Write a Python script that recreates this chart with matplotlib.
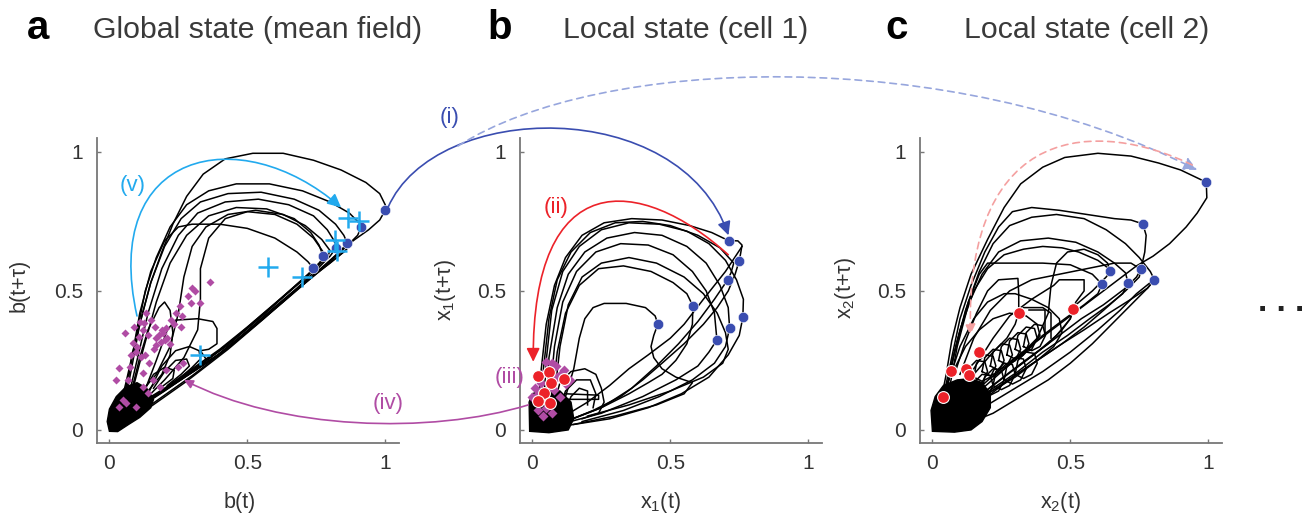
import matplotlib
matplotlib.use("Agg")
import matplotlib.pyplot as plt
from matplotlib.path import Path
from matplotlib.patches import FancyArrowPatch, Polygon

plt.rcParams['font.family'] = ['Liberation Sans', 'DejaVu Sans']
plt.rcParams['mathtext.fontset'] = 'custom'
plt.rcParams['mathtext.rm'] = 'Liberation Sans'
plt.rcParams['mathtext.it'] = 'Liberation Sans:italic'

W, H = 1311, 522

BLUE = '#3a4db0'
CYAN = '#22aaee'
MAGENTA = '#b04ca4'
RED = '#ec2229'
LIGHT_BLUE = '#97a6dd'
LIGHT_RED = '#f4a0a0'

# ---------------- panel a : mean field b(t) vs b(t+tau) ----------------
blue_a = [(1.0, 0.791), (0.913, 0.730), (0.862, 0.673), (0.822, 0.655), (0.775, 0.626), (0.738, 0.583)]
cross_a = [(0.865, 0.763), (0.905, 0.752), (0.818, 0.683), (0.825, 0.644), (0.575, 0.586), (0.698, 0.550), (0.327, 0.270)]
magenta_a = [(0.364, 0.533), (0.327, 0.458), (0.285, 0.48), (0.255, 0.444), (0.242, 0.42), (0.224, 0.396),
             (0.261, 0.372), (0.206, 0.366), (0.188, 0.318), (0.2, 0.324), (0.164, 0.372), (0.152, 0.396),
             (0.133, 0.42), (0.121, 0.36), (0.109, 0.336), (0.085, 0.312), (0.097, 0.282), (0.079, 0.27),
             (0.115, 0.264), (0.145, 0.24), (0.036, 0.222), (0.024, 0.18), (0.067, 0.18), (0.121, 0.156),
             (0.139, 0.132), (0.048, 0.108), (0.061, 0.096), (0.097, 0.084), (0.036, 0.084), (0.248, 0.228),
             (0.267, 0.24), (0.055, 0.348), (0.17, 0.306), (0.182, 0.156), (0.158, 0.18), (0.073, 0.228),
             (0.121, 0.204), (0.206, 0.216), (0.18, 0.34), (0.195, 0.35), (0.17, 0.33), (0.19, 0.36),
             (0.14, 0.34), (0.16, 0.29), (0.10, 0.30), (0.13, 0.27), (0.31, 0.50), (0.295, 0.455),
             (0.265, 0.41), (0.235, 0.38), (0.21, 0.33), (0.22, 0.31), (0.125, 0.385), (0.11, 0.39),
             (0.09, 0.37), (0.30, 0.51)]
blob_a = [(0.0, -0.005), (-0.008, 0.03), (0.0, 0.075), (0.025, 0.12), (0.06, 0.155), (0.10, 0.17),
          (0.135, 0.15), (0.16, 0.11), (0.15, 0.08), (0.11, 0.045), (0.07, 0.02), (0.03, -0.006)]
loops_a = [
    [(0.03, 0.05), (0.06, 0.17), (0.09, 0.30), (0.12, 0.42), (0.15, 0.53), (0.19, 0.64), (0.23, 0.74),
     (0.28, 0.84), (0.34, 0.92), (0.42, 0.975), (0.52, 0.995), (0.63, 0.995), (0.74, 0.97), (0.84, 0.935),
     (0.93, 0.89), (0.98, 0.85), (1.0, 0.81), (1.0, 0.79), (0.98, 0.755), (0.94, 0.72), (0.89, 0.685),
     (0.85, 0.655), (0.80, 0.61), (0.72, 0.54), (0.62, 0.455), (0.50, 0.355), (0.40, 0.275), (0.30, 0.21),
     (0.20, 0.145), (0.12, 0.095), (0.05, 0.045), (0.01, 0.01)],
    [(0.04, 0.06), (0.07, 0.2), (0.10, 0.35), (0.13, 0.5), (0.17, 0.62), (0.22, 0.73), (0.28, 0.81),
     (0.36, 0.86), (0.46, 0.885), (0.58, 0.885), (0.70, 0.86), (0.80, 0.82), (0.87, 0.78), (0.905, 0.745),
     (0.913, 0.73), (0.90, 0.70), (0.87, 0.67), (0.81, 0.615), (0.73, 0.545), (0.63, 0.46), (0.51, 0.36),
     (0.41, 0.28), (0.31, 0.215), (0.21, 0.15), (0.13, 0.10), (0.06, 0.05), (0.02, 0.015)],
    [(0.05, 0.07), (0.08, 0.22), (0.11, 0.38), (0.15, 0.53), (0.20, 0.66), (0.26, 0.76), (0.33, 0.82),
     (0.43, 0.85), (0.55, 0.855), (0.67, 0.83), (0.76, 0.79), (0.82, 0.74), (0.85, 0.70), (0.862, 0.673),
     (0.84, 0.645), (0.79, 0.60), (0.71, 0.53), (0.61, 0.445), (0.49, 0.345), (0.39, 0.265), (0.29, 0.20),
     (0.19, 0.135), (0.11, 0.085), (0.04, 0.035)],
    [(0.06, 0.08), (0.10, 0.25), (0.14, 0.42), (0.19, 0.58), (0.25, 0.70), (0.32, 0.78), (0.42, 0.82),
     (0.54, 0.83), (0.65, 0.81), (0.74, 0.77), (0.79, 0.72), (0.815, 0.68), (0.822, 0.655), (0.80, 0.625),
     (0.75, 0.575), (0.68, 0.51), (0.59, 0.435), (0.48, 0.34), (0.38, 0.26), (0.28, 0.195), (0.18, 0.13),
     (0.10, 0.08), (0.03, 0.03)],
    [(0.07, 0.09), (0.12, 0.28), (0.17, 0.46), (0.22, 0.60), (0.28, 0.70), (0.36, 0.77), (0.46, 0.80),
     (0.57, 0.795), (0.67, 0.76), (0.73, 0.71), (0.76, 0.665), (0.775, 0.626), (0.76, 0.595), (0.70, 0.54),
     (0.60, 0.455), (0.50, 0.37), (0.40, 0.29), (0.30, 0.22), (0.20, 0.15), (0.11, 0.095), (0.04, 0.04)],
    [(0.05, 0.08), (0.08, 0.25), (0.11, 0.42), (0.15, 0.57), (0.20, 0.68), (0.25, 0.73), (0.30, 0.74),
     (0.40, 0.74), (0.50, 0.725), (0.60, 0.69), (0.68, 0.64), (0.72, 0.605), (0.738, 0.583), (0.72, 0.555),
     (0.65, 0.495), (0.56, 0.42), (0.46, 0.335), (0.36, 0.255), (0.26, 0.185), (0.17, 0.125), (0.09, 0.07),
     (0.03, 0.025)],
    [(0.12, 0.10), (0.20, 0.18), (0.27, 0.26), (0.32, 0.36), (0.33, 0.47), (0.33, 0.58), (0.36, 0.69),
     (0.42, 0.76), (0.50, 0.785), (0.60, 0.775), (0.68, 0.74), (0.74, 0.69), (0.775, 0.64), (0.77, 0.61),
     (0.72, 0.56), (0.63, 0.48), (0.53, 0.39), (0.43, 0.305), (0.33, 0.235), (0.23, 0.165), (0.14, 0.105),
     (0.06, 0.05)],
    [(0.10, 0.12), (0.17, 0.20), (0.22, 0.30), (0.25, 0.42), (0.27, 0.55), (0.30, 0.66), (0.35, 0.73),
     (0.43, 0.775), (0.53, 0.79), (0.63, 0.775), (0.71, 0.735), (0.77, 0.685), (0.80, 0.645), (0.79, 0.62),
     (0.74, 0.575), (0.66, 0.505), (0.56, 0.415), (0.45, 0.325), (0.35, 0.25), (0.25, 0.18), (0.15, 0.115),
     (0.07, 0.06)],
    [(0.12, 0.12), (0.17, 0.25), (0.21, 0.36), (0.24, 0.395), (0.32, 0.40), (0.375, 0.39), (0.39, 0.365),
     (0.39, 0.31), (0.36, 0.29), (0.33, 0.285), (0.35, 0.255), (0.34, 0.235), (0.28, 0.195), (0.2, 0.14),
     (0.1, 0.075)],
    [(0.14, 0.13), (0.19, 0.23), (0.24, 0.285), (0.29, 0.30), (0.325, 0.285), (0.33, 0.255), (0.30, 0.225),
     (0.26, 0.19), (0.19, 0.14)],
    [(0.16, 0.15), (0.2, 0.21), (0.24, 0.25), (0.28, 0.255), (0.29, 0.23), (0.26, 0.2), (0.21, 0.16)],
    [(0.13, 0.15), (0.16, 0.2), (0.2, 0.225), (0.235, 0.215), (0.23, 0.185), (0.19, 0.155)],
    [(0.08, 0.14), (0.11, 0.26), (0.14, 0.36), (0.18, 0.44), (0.2, 0.46), (0.22, 0.43), (0.23, 0.35),
     (0.22, 0.27), (0.19, 0.2), (0.14, 0.14)],
    [(0.15, 0.09), (0.30, 0.195), (0.45, 0.31), (0.58, 0.42), (0.70, 0.525), (0.80, 0.60), (0.86, 0.65)],
    [(0.13, 0.07), (0.28, 0.175), (0.43, 0.29), (0.56, 0.40), (0.68, 0.505), (0.78, 0.585), (0.85, 0.64)],
]

# ---------------- panel b : cell 1 ----------------
blue_b = [(0.711, 0.681), (0.75, 0.609), (0.708, 0.54), (0.582, 0.446), (0.763, 0.405),
          (0.455, 0.381), (0.715, 0.366), (0.669, 0.324)]
red_b = [(0.019, 0.194), (0.059, 0.21), (0.113, 0.182), (0.068, 0.168), (0.043, 0.132),
         (0.019, 0.105), (0.062, 0.098)]
magenta_b = [(0.01, 0.15), (0.02, 0.13), (0.03, 0.17), (0.05, 0.245), (0.07, 0.24), (0.085, 0.23),
             (0.04, 0.2), (0.09, 0.19), (0.105, 0.2), (0.12, 0.165), (0.03, 0.1), (0.05, 0.08),
             (0.02, 0.07), (0.07, 0.06), (0.1, 0.12), (0.08, 0.145), (0.0, 0.12), (0.04, 0.05),
             (0.115, 0.215), (0.06, 0.205), (0.015, 0.19), (0.135, 0.18)]
blob_b = [(-0.01, -0.005), (-0.012, 0.10), (0.0, 0.13), (0.05, 0.15), (0.10, 0.14), (0.14, 0.10),
          (0.15, 0.04), (0.13, 0.0), (0.06, -0.01)]
loops_b = [
    [(0.02, 0.05), (0.03, 0.2), (0.05, 0.38), (0.08, 0.52), (0.12, 0.62), (0.18, 0.70), (0.26, 0.745),
     (0.36, 0.76), (0.47, 0.755), (0.57, 0.735), (0.65, 0.71), (0.711, 0.681), (0.745, 0.68), (0.76, 0.665),
     (0.755, 0.635), (0.75, 0.609), (0.735, 0.56), (0.71, 0.50), (0.67, 0.44), (0.62, 0.38), (0.55, 0.31),
     (0.47, 0.24), (0.40, 0.18), (0.32, 0.12), (0.22, 0.07), (0.12, 0.03), (0.04, 0.01)],
    [(0.03, 0.06), (0.04, 0.22), (0.06, 0.40), (0.09, 0.54), (0.14, 0.64), (0.21, 0.71), (0.30, 0.745),
     (0.40, 0.75), (0.50, 0.735), (0.60, 0.70), (0.68, 0.655), (0.73, 0.60), (0.72, 0.565), (0.708, 0.54),
     (0.66, 0.47), (0.60, 0.39), (0.53, 0.31), (0.45, 0.23), (0.36, 0.15), (0.25, 0.08), (0.12, 0.03)],
    [(0.04, 0.07), (0.05, 0.25), (0.07, 0.43), (0.11, 0.57), (0.17, 0.66), (0.25, 0.72), (0.35, 0.745),
     (0.46, 0.74), (0.56, 0.715), (0.64, 0.67), (0.70, 0.61), (0.74, 0.54), (0.765, 0.47), (0.763, 0.405),
     (0.75, 0.34), (0.71, 0.27), (0.64, 0.19), (0.54, 0.13), (0.42, 0.08), (0.28, 0.04), (0.12, 0.015)],
    [(0.05, 0.08), (0.06, 0.26), (0.09, 0.44), (0.13, 0.56), (0.19, 0.64), (0.27, 0.69), (0.37, 0.71),
     (0.47, 0.70), (0.56, 0.66), (0.63, 0.60), (0.68, 0.52), (0.71, 0.44), (0.715, 0.366), (0.70, 0.30),
     (0.66, 0.24), (0.58, 0.18), (0.46, 0.12), (0.33, 0.07), (0.18, 0.03)],
    [(0.06, 0.09), (0.08, 0.30), (0.11, 0.46), (0.16, 0.57), (0.23, 0.64), (0.32, 0.67), (0.42, 0.665),
     (0.51, 0.63), (0.58, 0.57), (0.63, 0.50), (0.66, 0.42), (0.669, 0.324), (0.64, 0.28), (0.60, 0.23),
     (0.52, 0.18), (0.40, 0.12), (0.25, 0.06), (0.1, 0.02)],
    [(0.07, 0.10), (0.09, 0.28), (0.12, 0.42), (0.17, 0.52), (0.24, 0.58), (0.33, 0.59), (0.43, 0.57),
     (0.51, 0.53), (0.56, 0.49), (0.582, 0.446), (0.58, 0.38), (0.56, 0.31), (0.52, 0.25), (0.47, 0.20),
     (0.42, 0.17), (0.35, 0.13), (0.25, 0.08), (0.12, 0.03)],
    [(0.12, 0.12), (0.15, 0.22), (0.17, 0.33), (0.19, 0.40), (0.22, 0.44), (0.26, 0.455), (0.34, 0.455),
     (0.41, 0.44), (0.445, 0.41), (0.455, 0.381), (0.44, 0.34), (0.43, 0.30), (0.44, 0.26), (0.47, 0.22),
     (0.52, 0.19), (0.58, 0.17), (0.55, 0.13), (0.45, 0.09), (0.3, 0.05), (0.15, 0.02)],
    [(0.08, 0.12), (0.10, 0.3), (0.13, 0.45), (0.18, 0.55), (0.25, 0.60), (0.35, 0.62), (0.45, 0.60),
     (0.55, 0.55), (0.62, 0.49), (0.67, 0.42), (0.70, 0.35), (0.71, 0.29), (0.69, 0.24), (0.62, 0.19),
     (0.5, 0.14), (0.35, 0.09), (0.2, 0.05)],
    [(0.76, 0.66), (0.70, 0.57), (0.62, 0.47), (0.55, 0.38), (0.50, 0.33), (0.42, 0.27), (0.35, 0.22),
     (0.28, 0.16), (0.2, 0.1), (0.1, 0.04)],
    [(0.08, 0.10), (0.10, 0.17), (0.14, 0.21), (0.19, 0.22), (0.23, 0.20), (0.25, 0.15), (0.26, 0.10),
     (0.24, 0.06), (0.18, 0.04)],
    [(0.1, 0.08), (0.12, 0.14), (0.16, 0.18), (0.21, 0.18), (0.23, 0.13), (0.22, 0.08)],
    [(0.12, 0.07), (0.14, 0.12), (0.17, 0.15), (0.2, 0.14), (0.2, 0.09)],
    [(0.10, 0.11), (0.24, 0.11), (0.24, 0.125), (0.12, 0.13)],
]

# ---------------- panel c : cell 2 ----------------
blue_c = [(0.993, 0.891), (0.763, 0.741), (0.645, 0.57), (0.756, 0.578), (0.615, 0.524),
          (0.709, 0.53), (0.805, 0.54)]
red_c = [(0.313, 0.422), (0.51, 0.435), (0.17, 0.282), (0.069, 0.212), (0.123, 0.218),
         (0.132, 0.198), (0.037, 0.12)]
blob_c = [(0.0, -0.005), (-0.005, 0.07), (0.01, 0.12), (0.04, 0.16), (0.09, 0.18), (0.14, 0.185),
          (0.18, 0.17), (0.21, 0.13), (0.21, 0.08), (0.18, 0.03), (0.14, 0.0), (0.08, -0.008)]
loops_c = [
    [(0.03, 0.1), (0.05, 0.2), (0.07, 0.32), (0.10, 0.44), (0.14, 0.56), (0.20, 0.685), (0.26, 0.80),
     (0.32, 0.885), (0.40, 0.945), (0.48, 0.98), (0.60, 0.995), (0.72, 0.985), (0.82, 0.96), (0.90, 0.935),
     (0.993, 0.891), (0.995, 0.835), (0.96, 0.78), (0.92, 0.73), (0.86, 0.67), (0.80, 0.625), (0.74, 0.59),
     (0.66, 0.53), (0.58, 0.47), (0.50, 0.41), (0.42, 0.35), (0.34, 0.29), (0.26, 0.23), (0.18, 0.16),
     (0.10, 0.09), (0.04, 0.03)],
    [(0.04, 0.12), (0.07, 0.26), (0.10, 0.40), (0.14, 0.52), (0.19, 0.64), (0.24, 0.73), (0.29, 0.785),
     (0.36, 0.80), (0.46, 0.79), (0.56, 0.775), (0.66, 0.76), (0.72, 0.755), (0.763, 0.741), (0.775, 0.70),
     (0.77, 0.64), (0.756, 0.578), (0.74, 0.55), (0.70, 0.51), (0.62, 0.45), (0.54, 0.40), (0.46, 0.34),
     (0.38, 0.28), (0.30, 0.22), (0.22, 0.16), (0.13, 0.09), (0.05, 0.03)],
    [(0.05, 0.13), (0.08, 0.28), (0.12, 0.43), (0.17, 0.57), (0.22, 0.67), (0.28, 0.735), (0.36, 0.765),
     (0.45, 0.775), (0.55, 0.76), (0.63, 0.72), (0.70, 0.67), (0.75, 0.62), (0.79, 0.57), (0.805, 0.54),
     (0.78, 0.51), (0.72, 0.47), (0.64, 0.42), (0.55, 0.36), (0.47, 0.31), (0.38, 0.25), (0.29, 0.19),
     (0.20, 0.13), (0.10, 0.06)],
    [(0.06, 0.14), (0.09, 0.3), (0.13, 0.45), (0.18, 0.56), (0.24, 0.64), (0.32, 0.68), (0.42, 0.69),
     (0.52, 0.675), (0.60, 0.64), (0.66, 0.60), (0.70, 0.565), (0.709, 0.53), (0.69, 0.49), (0.64, 0.45),
     (0.57, 0.40), (0.49, 0.34), (0.40, 0.28), (0.31, 0.21), (0.22, 0.15), (0.12, 0.08)],
    [(0.30, 0.25), (0.38, 0.33), (0.42, 0.42), (0.43, 0.52), (0.45, 0.60), (0.49, 0.64), (0.55, 0.65),
     (0.60, 0.63), (0.635, 0.60), (0.645, 0.57), (0.63, 0.55), (0.58, 0.50), (0.52, 0.45), (0.51, 0.435),
     (0.50, 0.40), (0.45, 0.34), (0.38, 0.28), (0.3, 0.22)],
    [(0.05, 0.15), (0.09, 0.32), (0.13, 0.46), (0.17, 0.56), (0.20, 0.60), (0.30, 0.60), (0.40, 0.60),
     (0.50, 0.594), (0.58, 0.56), (0.615, 0.524), (0.60, 0.49), (0.55, 0.45), (0.48, 0.40), (0.40, 0.34),
     (0.32, 0.27), (0.24, 0.20), (0.16, 0.13), (0.08, 0.06)],
    [(0.08, 0.2), (0.12, 0.32), (0.16, 0.42), (0.20, 0.50), (0.24, 0.54), (0.31, 0.545), (0.313, 0.49),
     (0.313, 0.422), (0.30, 0.38), (0.27, 0.33), (0.22, 0.28), (0.15, 0.2), (0.08, 0.12)],
    [(0.15, 0.22), (0.22, 0.33), (0.28, 0.41), (0.36, 0.47), (0.44, 0.52), (0.46, 0.54), (0.55, 0.54),
     (0.55, 0.50), (0.52, 0.46), (0.51, 0.435), (0.50, 0.40), (0.47, 0.36), (0.42, 0.31), (0.35, 0.26),
     (0.27, 0.2), (0.18, 0.13)],
    [(0.10, 0.2), (0.15, 0.33), (0.21, 0.43), (0.28, 0.50), (0.36, 0.54), (0.46, 0.56), (0.56, 0.58),
     (0.66, 0.60), (0.72, 0.60), (0.756, 0.578), (0.75, 0.55), (0.70, 0.50), (0.62, 0.43), (0.55, 0.37),
     (0.47, 0.31), (0.38, 0.25), (0.29, 0.19), (0.2, 0.12)],
    [(0.06, 0.18), (0.1, 0.3), (0.15, 0.4), (0.2, 0.46), (0.26, 0.49), (0.3, 0.49), (0.36, 0.47),
     (0.42, 0.44), (0.46, 0.4), (0.47, 0.35), (0.44, 0.3), (0.38, 0.25), (0.3, 0.19), (0.2, 0.13)],
    [(0.08, 0.22), (0.12, 0.3), (0.17, 0.36), (0.22, 0.4), (0.28, 0.42), (0.34, 0.41), (0.38, 0.38),
     (0.39, 0.34), (0.36, 0.3), (0.3, 0.25), (0.22, 0.19)],
    [(0.06, 0.2), (0.1, 0.36), (0.15, 0.5), (0.2, 0.58), (0.26, 0.63), (0.33, 0.65), (0.4, 0.66),
     (0.47, 0.655), (0.53, 0.64), (0.6, 0.61), (0.64, 0.58)],
    [(0.12, 0.02), (0.22, 0.06), (0.32, 0.12), (0.42, 0.18), (0.5, 0.24), (0.58, 0.31), (0.66, 0.39),
     (0.73, 0.46), (0.78, 0.51), (0.805, 0.54)],
    [(0.1, 0.04), (0.2, 0.09), (0.3, 0.15), (0.4, 0.21), (0.5, 0.28), (0.6, 0.36), (0.68, 0.43),
     (0.74, 0.49), (0.79, 0.53)],
    [(0.33, 0.44), (0.40, 0.44), (0.43, 0.42), (0.43, 0.33)],
    [(0.35, 0.43), (0.41, 0.43), (0.41, 0.34)],
    # ribbed rings along the diagonal
    [(0.12, 0.17), (0.13, 0.22), (0.16, 0.25), (0.19, 0.245), (0.2, 0.21), (0.18, 0.17), (0.15, 0.155), (0.12, 0.17)],
    [(0.15, 0.19), (0.16, 0.24), (0.19, 0.27), (0.22, 0.265), (0.23, 0.23), (0.21, 0.19), (0.18, 0.175), (0.15, 0.19)],
    [(0.18, 0.21), (0.19, 0.26), (0.22, 0.29), (0.25, 0.285), (0.26, 0.25), (0.24, 0.21), (0.21, 0.195), (0.18, 0.21)],
    [(0.21, 0.23), (0.22, 0.28), (0.25, 0.31), (0.28, 0.305), (0.29, 0.27), (0.27, 0.23), (0.24, 0.215), (0.21, 0.23)],
    [(0.24, 0.25), (0.25, 0.30), (0.28, 0.33), (0.31, 0.325), (0.32, 0.29), (0.30, 0.25), (0.27, 0.235), (0.24, 0.25)],
    [(0.27, 0.27), (0.28, 0.32), (0.31, 0.35), (0.34, 0.345), (0.35, 0.31), (0.33, 0.27), (0.30, 0.255), (0.27, 0.27)],
    [(0.30, 0.29), (0.31, 0.34), (0.34, 0.37), (0.37, 0.365), (0.38, 0.33), (0.36, 0.29), (0.33, 0.275), (0.30, 0.29)],
    [(0.33, 0.30), (0.34, 0.35), (0.37, 0.38), (0.40, 0.375), (0.41, 0.34), (0.39, 0.30), (0.36, 0.285), (0.33, 0.30)],
    [(0.18, 0.14), (0.19, 0.19), (0.22, 0.22), (0.25, 0.215), (0.26, 0.18), (0.24, 0.14), (0.21, 0.125), (0.18, 0.14)],
    [(0.22, 0.16), (0.23, 0.21), (0.26, 0.24), (0.29, 0.235), (0.30, 0.2), (0.28, 0.16), (0.25, 0.145), (0.22, 0.16)],
    [(0.26, 0.18), (0.27, 0.23), (0.30, 0.26), (0.33, 0.255), (0.34, 0.22), (0.32, 0.18), (0.29, 0.165), (0.26, 0.18)],
    [(0.30, 0.20), (0.31, 0.25), (0.34, 0.28), (0.37, 0.275), (0.38, 0.24), (0.36, 0.20), (0.33, 0.185), (0.30, 0.20)],
    [(0.14, 0.12), (0.15, 0.17), (0.18, 0.2), (0.21, 0.195), (0.22, 0.16), (0.2, 0.12), (0.17, 0.105), (0.14, 0.12)],
]

ticks = [0, 0.5, 1]
tick_labels = ['0', '0.5', '1']

fig = plt.figure(figsize=(W / 100, H / 100), dpi=100)


def make_ax(left_px):
    ax = fig.add_axes([left_px / W, (H - 443) / H, 302 / W, 305 / H])
    ax.set_xlim(-0.045, 1.05)
    ax.set_ylim(-0.047, 1.05)
    for s in ['top', 'right']:
        ax.spines[s].set_visible(False)
    for s in ['left', 'bottom']:
        ax.spines[s].set_color('#777777')
        ax.spines[s].set_linewidth(1.3)
    ax.set_xticks(ticks)
    ax.set_xticklabels(tick_labels)
    ax.set_yticks(ticks)
    ax.set_yticklabels(tick_labels)
    ax.tick_params(direction='in', length=3, width=1, colors='#777777', labelcolor='#333333', labelsize=15)
    ax.tick_params(axis='x', pad=8)
    ax.tick_params(axis='y', pad=10)
    ax.patch.set_alpha(0)
    return ax


def draw_loops(ax, loops):
    for lp in loops:
        xs, ys = zip(*lp)
        ax.plot(xs, ys, color='black', lw=1.1, solid_joinstyle='round', zorder=2)


def scatter(ax, pts, **kw):
    xs, ys = zip(*pts)
    ax.plot(xs, ys, ls='none', **kw)


ax_a = make_ax(97)
ax_b = make_ax(520)
ax_c = make_ax(920)

# panel a
draw_loops(ax_a, loops_a)
ax_a.add_patch(Polygon(blob_a, closed=True, color='black', zorder=2))
scatter(ax_a, magenta_a, marker='D', ms=3.6, color=MAGENTA, mec='none', zorder=3)
scatter(ax_a, blue_a, marker='o', ms=7.5, color=BLUE, mec='white', mew=0.4, zorder=4)
scatter(ax_a, cross_a, marker='+', ms=15, mew=1.8, color=CYAN, zorder=5)

# panel b
draw_loops(ax_b, loops_b)
ax_b.add_patch(Polygon(blob_b, closed=True, color='black', zorder=2))
scatter(ax_b, magenta_b, marker='D', ms=5, color=MAGENTA, mec='none', zorder=3)
scatter(ax_b, blue_b, marker='o', ms=7.5, color=BLUE, mec='white', mew=0.4, zorder=4)
scatter(ax_b, red_b, marker='o', ms=8.5, color=RED, mec='white', mew=0.8, zorder=5)

# panel c
draw_loops(ax_c, loops_c)
ax_c.add_patch(Polygon(blob_c, closed=True, color='black', zorder=2))
scatter(ax_c, blue_c, marker='o', ms=7.5, color=BLUE, mec='white', mew=0.4, zorder=4)
scatter(ax_c, red_c, marker='o', ms=8.5, color=RED, mec='white', mew=0.8, zorder=5)


# ------------- annotation curves between / inside panels -------------
def fpx(x, y):
    return (x / W, 1 - y / H)


def fdat(ax, x, y):
    return tuple(fig.transFigure.inverted().transform(ax.transData.transform((x, y))))


def curve(p0, c1, c2, p1, color, ls='-', head=18, lw=1.2):
    path = Path([p0, c1, c2, p1], [Path.MOVETO, Path.CURVE4, Path.CURVE4, Path.CURVE4])
    arr = FancyArrowPatch(path=path, arrowstyle='-|>,head_length=0.45,head_width=0.22',
                          mutation_scale=head, color=color, lw=lw, linestyle=ls,
                          transform=fig.transFigure)
    fig.add_artist(arr)


# (i) solid blue a -> b
curve(fdat(ax_a, 1.01, 0.80), fpx(435, 100), fpx(680, 95), fdat(ax_b, 0.711, 0.70), BLUE)
# dashed blue -> c
curve(fpx(458, 146), fpx(600, 55), fpx(950, 45), fdat(ax_c, 0.96, 0.935), LIGHT_BLUE, ls=(0, (4, 3)))
# (ii) red inside b
curve(fdat(ax_b, 0.71, 0.63), fpx(640, 175), fpx(532, 165), fdat(ax_b, 0.003, 0.245), RED)
# dashed red inside c
curve(fdat(ax_c, 0.942, 0.953), fpx(1100, 120), fpx(965, 120), fdat(ax_c, 0.138, 0.342), LIGHT_RED,
      ls=(0, (4, 3)), head=14)
# (iv) magenta b -> a
curve(fdat(ax_b, -0.015, 0.09), fpx(430, 435), fpx(280, 430), fdat(ax_a, 0.27, 0.18), MAGENTA, head=12)
# (v) cyan inside a
curve(fdat(ax_a, 0.10, 0.41), fpx(100, 150), fpx(240, 120), fdat(ax_a, 0.84, 0.80), CYAN)

lab_kw = dict(fontsize=16, ha='center', va='center')
fig.text(*fpx(450, 118), '(i)', color=BLUE, **lab_kw)
fig.text(*fpx(556, 208), '(ii)', color=RED, **lab_kw)
fig.text(*fpx(510, 378), '(iii)', color=MAGENTA, **lab_kw)
fig.text(*fpx(388, 404), '(iv)', color=MAGENTA, **lab_kw)
fig.text(*fpx(133, 185), '(v)', color=CYAN, **lab_kw)

# panel letters and titles
for x, letter in [(27, 'a'), (487, 'b'), (885, 'c')]:
    fig.text(*fpx(x, 39), letter, fontsize=29, fontweight='bold', ha='left', va='baseline', color='black')
for x, title in [(93, 'Global state (mean field)'), (563, 'Local state (cell 1)'), (964, 'Local state (cell 2)')]:
    fig.text(*fpx(x, 38), title, fontsize=21.8, ha='left', va='baseline', color='#3a3a3a')

# axis labels
ax_kw = dict(fontsize=15.5, color='#333333')
fig.text(*fpx(240, 508), 'b(t)', ha='center', va='baseline', **ax_kw)
fig.text(*fpx(660, 508), r'x$_\mathregular{1}$(t)', ha='center', va='baseline', **ax_kw)
fig.text(*fpx(1060, 508), r'x$_\mathregular{2}$(t)', ha='center', va='baseline', **ax_kw)
fig.text(*fpx(19, 285), 'b(t+τ)', rotation=90, ha='center', va='center', **ax_kw)
fig.text(*fpx(445, 290), r'x$_\mathregular{1}$(t+τ)', rotation=90, ha='center', va='center', **ax_kw)
fig.text(*fpx(845, 288), r'x$_\mathregular{2}$(t+τ)', rotation=90, ha='center', va='center', **ax_kw)

fig.text(*fpx(1281, 311), '. . .', fontsize=24, fontweight='bold', ha='center', va='baseline', color='#222222')

fig.savefig('out.png', dpi=100)
